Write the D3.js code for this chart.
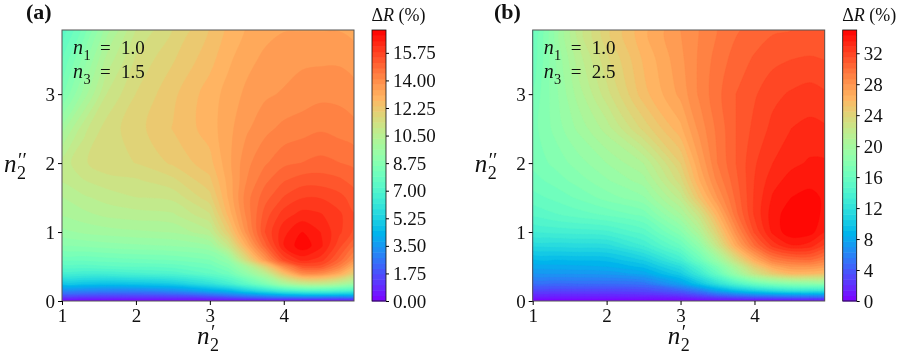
<!DOCTYPE html>
<html>
<head>
<meta charset="utf-8">
<script src="https://cdn.jsdelivr.net/npm/d3@7"></script>
<style>
html, body { margin: 0; padding: 0; background: #fff; }
text { font-family: "Liberation Serif", serif; fill: #111; }
.d3svg { display: block; filter: blur(0.3px); }
</style>
</head>
<body>
<svg class="d3svg" width="897" height="359"></svg>
<script>
// grid positions (rows are not even: the bottom edge is steep)
var n2_real = [1, 1.3, 1.6, 2, 2.5, 3, 3.25, 3.5, 3.75, 4, 4.25, 4.5, 4.75, 4.95];
var n2_imag = [0, 0.05, 0.1, 0.15, 0.25, 0.4, 0.5, 0.6, 0.8, 1, 1.25, 1.5, 1.75, 2, 2.5, 3, 3.5, 3.93];

// delta R (%) panel a, one row per n2_imag value
var values_a = [
  [0, 0, 0, 0, 0, 0, 0, 0, 0, 0, 0, 0, 0, 0],
  [1.1, 1.05, 1.0, 1.0, 1.1, 1.3, 1.6, 1.9, 2.2, 2.4, 2.5, 2.5, 2.4, 2.3],
  [2.2, 2.1, 2.0, 2.0, 2.2, 2.7, 3.1, 3.6, 4.1, 4.6, 4.9, 5.0, 4.9, 4.7],
  [3.1, 3.0, 2.9, 2.9, 3.2, 4.0, 4.4, 5.2, 5.9, 6.6, 7.0, 7.1, 6.9, 6.6],
  [4.8, 4.8, 4.7, 4.8, 5.1, 5.9, 6.6, 7.5, 8.5, 9.8, 10.6, 10.7, 10.2, 9.5],
  [6.7, 6.6, 6.6, 6.8, 7.0, 7.6, 8.1, 9.2, 10.5, 12.5, 14.0, 14.0, 13.2, 12.0],
  [7.4, 7.4, 7.5, 7.6, 7.7, 8.1, 8.7, 10.0, 11.9, 14.0, 15.3, 15.3, 14.3, 13.0],
  [8.0, 8.0, 8.1, 8.2, 8.3, 8.6, 9.3, 11.6, 13.7, 15.6, 16.3, 16.0, 15.0, 13.9],
  [8.9, 9.0, 9.1, 9.2, 9.3, 9.6, 11.0, 13.1, 15.0, 16.5, 17.1, 16.6, 15.6, 14.8],
  [9.5, 9.7, 9.8, 9.9, 10.0, 10.6, 12.1, 13.9, 15.5, 16.4, 16.85, 16.5, 15.9, 15.4],
  [10.0, 10.2, 10.4, 10.5, 10.6, 11.3, 12.8, 14.2, 15.3, 16.0, 16.3, 16.2, 15.9, 15.5],
  [10.3, 10.6, 10.8, 11.0, 11.1, 11.9, 13.1, 14.3, 15.0, 15.5, 15.8, 15.8, 15.6, 15.3],
  [10.7, 11.0, 11.2, 11.3, 11.6, 12.3, 13.2, 14.1, 14.7, 15.1, 15.3, 15.3, 15.2, 15.0],
  [10.8, 11.3, 11.6, 11.7, 12.1, 12.6, 13.3, 14.0, 14.4, 14.7, 14.8, 14.9, 14.8, 14.7],
  [9.8, 10.9, 11.5, 11.9, 12.4, 12.9, 13.3, 13.7, 14.0, 14.2, 14.3, 14.4, 14.3, 14.2],
  [8.5, 9.8, 11.0, 11.7, 12.3, 12.9, 13.2, 13.5, 13.7, 13.8, 13.9, 14.0, 14.0, 13.9],
  [7.9, 9.1, 10.4, 11.4, 12.0, 12.6, 13.0, 13.3, 13.5, 13.6, 13.7, 13.7, 13.7, 13.6],
  [7.3, 8.4, 9.8, 11.0, 11.7, 12.4, 12.8, 13.1, 13.3, 13.4, 13.4, 13.4, 13.4, 13.3]
];

// delta R (%) panel b
var values_b = [
  [0, 0, 0, 0, 0, 0, 0, 0, 0, 0, 0, 0, 0, 0],
  [1.0, 1.0, 1.0, 1.0, 1.1, 1.4, 1.9, 2.6, 3.1, 3.5, 3.8, 4.0, 4.0, 4.0],
  [2.0, 2.0, 2.0, 2.0, 2.2, 2.9, 3.9, 5.2, 6.2, 7.1, 7.6, 8.0, 8.2, 8.0],
  [3.0, 3.0, 3.0, 3.0, 3.2, 4.3, 5.6, 7.7, 9.3, 10.5, 11.5, 12.3, 12.3, 12.0],
  [4.8, 4.8, 4.9, 4.9, 5.2, 7.6, 9.7, 12.0, 14.2, 16.0, 17.3, 18.0, 18.3, 18.0],
  [7.0, 7.1, 7.1, 7.2, 8.0, 10.4, 12.9, 15.9, 19.3, 22.6, 24.7, 26.0, 26.0, 25.5],
  [8.0, 8.1, 8.2, 8.4, 9.3, 11.8, 14.4, 17.4, 21.0, 24.5, 27.0, 28.0, 28.0, 27.5],
  [9.0, 9.1, 9.2, 9.3, 10.6, 13.5, 16.2, 19.3, 23.2, 26.7, 29.2, 30.0, 30.2, 29.2],
  [11.3, 11.4, 11.5, 11.6, 13.3, 16.0, 18.5, 22.5, 26.7, 30.0, 32.4, 33.5, 33.2, 32.0],
  [13.3, 13.5, 13.6, 13.8, 15.0, 18.0, 20.7, 24.4, 28.3, 31.6, 33.8, 34.8, 34.6, 33.6],
  [14.8, 15.3, 15.7, 16.2, 17.0, 20.2, 22.7, 26.3, 29.8, 32.3, 34.0, 34.7, 34.7, 34.1],
  [15.8, 16.3, 16.9, 17.8, 18.8, 22.0, 25.2, 28.0, 30.3, 32.3, 33.7, 34.3, 34.5, 34.2],
  [16.5, 17.1, 17.8, 18.8, 20.0, 23.5, 26.5, 28.9, 30.6, 32.2, 33.3, 33.9, 34.1, 34.0],
  [17.0, 17.7, 18.5, 19.6, 21.0, 24.5, 27.2, 29.4, 30.8, 32.1, 32.9, 33.4, 33.7, 33.7],
  [17.2, 18.4, 19.7, 21.3, 24.0, 26.4, 28.2, 29.6, 30.8, 31.7, 32.4, 32.9, 33.1, 33.0],
  [16.9, 18.6, 20.5, 22.8, 25.6, 27.5, 28.8, 29.9, 30.8, 31.4, 32.0, 32.3, 32.5, 32.3],
  [16.3, 18.8, 21.2, 23.6, 26.0, 27.8, 28.8, 29.7, 30.4, 30.9, 31.3, 31.5, 31.6, 31.5],
  [15.8, 19.0, 21.9, 24.3, 26.4, 28.0, 28.7, 29.4, 30.0, 30.4, 30.7, 30.8, 30.8, 30.8]
];

var x_ticks = [1, 2, 3, 4];
var y_ticks = [0, 1, 2, 3];
var cbar_ticks_a = [0, 1.75, 3.5, 5.25, 7, 8.75, 10.5, 12.25, 14, 15.75];
var cbar_ticks_b = [0, 4, 8, 12, 16, 20, 24, 28, 32];

var n_levels = 50;

var svg = d3.select(".d3svg");

// matplotlib rainbow
function rainbow(t) {
    var r = Math.min(1, Math.abs(2 * t - 0.5));
    var g = Math.sin(Math.PI * t);
    var b = Math.cos(Math.PI * t / 2);
    return d3.rgb(255 * r, 255 * g, 255 * b) + "";
}

function put_text(g, px, py, size, str, italic) {
    return g.append("text").attr("x", px).attr("y", py)
        .style("font-size", size + "px")
        .style("font-style", italic ? "italic" : "normal")
        .text(str);
}

// n with its subscript and optional primes, all one text element
function n_symbol(g, px, py, size, sub, prime) {
    var t = put_text(g, px, py, size, "n", true);
    t.append("tspan").attr("x", px + size * 0.52).attr("y", py + size * 0.28)
        .style("font-size", size * 0.72 + "px").style("font-style", "normal").text(sub);
    if (prime) {
        t.append("tspan").attr("x", px + size * 0.56).attr("y", py - size * 0.22)
            .style("font-size", size * 0.8 + "px").style("font-style", "normal").text(prime);
    }
}

function panel(opts) {
    var g = svg.append("g");
    var left = opts.left, right = opts.left + 292, top = 30, bottom = 301;

    var x = d3.scaleLinear().domain([1, 4.95]).range([left, right]);
    var y = d3.scaleLinear().domain([0, 3.93]).range([bottom, top]);

    // grid index -> data value, cell centres sit on i + 0.5 in d3.contours
    var ix = d3.scaleLinear().domain(n2_real.map(function(d, i) { return i + 0.5; })).range(n2_real);
    var iy = d3.scaleLinear().domain(n2_imag.map(function(d, i) { return i + 0.5; })).range(n2_imag);

    var levels = d3.range(n_levels).map(function(i) { return opts.max * i / n_levels; });
    var color = function(i) { return rainbow((i + 0.5) / n_levels); };

    var contours = d3.contours()
        .size([n2_real.length, n2_imag.length])
        .thresholds(levels)(opts.values.flat());

    var ring_path = d3.line()
        .x(function(p) { return x(ix(p[0])); })
        .y(function(p) { return y(iy(p[1])); })
        .curve(d3.curveCatmullRomClosed.alpha(0.5));

    g.append("clipPath").attr("id", "clip" + opts.tag[1])
        .append("rect").attr("x", left).attr("y", top).attr("width", right - left).attr("height", bottom - top);

    g.append("rect").attr("x", left).attr("y", top).attr("width", right - left).attr("height", bottom - top)
        .attr("fill", color(0));

    g.append("g").attr("clip-path", "url(#clip" + opts.tag[1] + ")")
        .selectAll("path")
        .data(contours)
        .enter()
        .append("path")
        .attr("d", function(d) {
            return d.coordinates.map(function(poly) {
                return poly.map(function(ring) { return ring_path(ring.slice(1)); }).join("");
            }).join("");
        })
        .attr("fill", function(d, i) { return color(i); })
        .attr("fill-rule", "evenodd")
        .attr("stroke", function(d, i) { return color(i); })
        .attr("stroke-width", 0.4);

    g.append("rect").attr("x", left).attr("y", top).attr("width", right - left).attr("height", bottom - top)
        .attr("fill", "none").attr("stroke", "#555").attr("stroke-width", 1);

    var ax = g.append("g").attr("transform", "translate(0," + bottom + ")")
        .call(d3.axisBottom(x).tickValues(x_ticks).tickFormat(d3.format("d")).tickSize(4).tickPadding(4));
    var ay = g.append("g").attr("transform", "translate(" + left + ",0)")
        .call(d3.axisLeft(y).tickValues(y_ticks).tickFormat(d3.format("d")).tickSize(4).tickPadding(3));
    ax.select(".domain").remove();
    ay.select(".domain").remove();
    g.selectAll(".tick text").style("font-size", "19px").style("font-family", '"Liberation Serif", serif').attr("fill", "#111");

    n_symbol(g, left + 11, 54, 20, "1");
    put_text(g, left + 38, 54, 19, "=");
    put_text(g, left + 59, 54, 19, "1.0");
    n_symbol(g, left + 11, 78, 20, "3");
    put_text(g, left + 38, 78, 19, "=");
    put_text(g, left + 59, 78, 19, opts.n3);

    n_symbol(g, left + 135, 344, 25, "2", "\u2032");
    n_symbol(g, left - 58, 172, 25, "2", "\u2032\u2032");

    put_text(g, opts.tag_x, 19, 22, opts.tag).style("font-weight", "bold");

    // colour bar
    var cx = opts.left + 310, cw = 14;
    var cy = d3.scaleLinear().domain([0, opts.max]).range([bottom, top]);
    var cb = g.append("g");
    cb.selectAll("rect")
        .data(levels)
        .enter()
        .append("rect")
        .attr("x", cx)
        .attr("width", cw)
        .attr("y", function(d) { return cy(d + opts.max / n_levels); })
        .attr("height", function(d) { return cy(d) - cy(d + opts.max / n_levels) + 0.5; })
        .attr("fill", function(d, i) { return color(i); });
    cb.append("rect").attr("x", cx).attr("y", top).attr("width", cw).attr("height", bottom - top)
        .attr("fill", "none").attr("stroke", "#111").attr("stroke-width", 0.8);
    var ac = cb.append("g").attr("transform", "translate(" + (cx + cw) + ",0)")
        .call(d3.axisRight(cy).tickValues(opts.ticks).tickFormat(opts.fmt).tickSize(3).tickPadding(4));
    ac.select(".domain").remove();
    ac.selectAll(".tick text").style("font-size", "19px").style("font-family", '"Liberation Serif", serif').attr("fill", "#111");

    var dr = g.append("text").attr("x", cx - 0.5).attr("y", 21).style("font-size", "18px");
    dr.append("tspan").text("\u0394");
    dr.append("tspan").style("font-style", "italic").text("R");
    dr.append("tspan").text(" (%)");
}

panel({left: 62, values: values_a, max: 17.2, ticks: cbar_ticks_a, fmt: d3.format(".2f"), n3: "1.5", tag: "(a)", tag_x: 26});
panel({left: 532.7, values: values_b, max: 35, ticks: cbar_ticks_b, fmt: d3.format("d"), n3: "2.5", tag: "(b)", tag_x: 494});
</script>
</body>
</html>
